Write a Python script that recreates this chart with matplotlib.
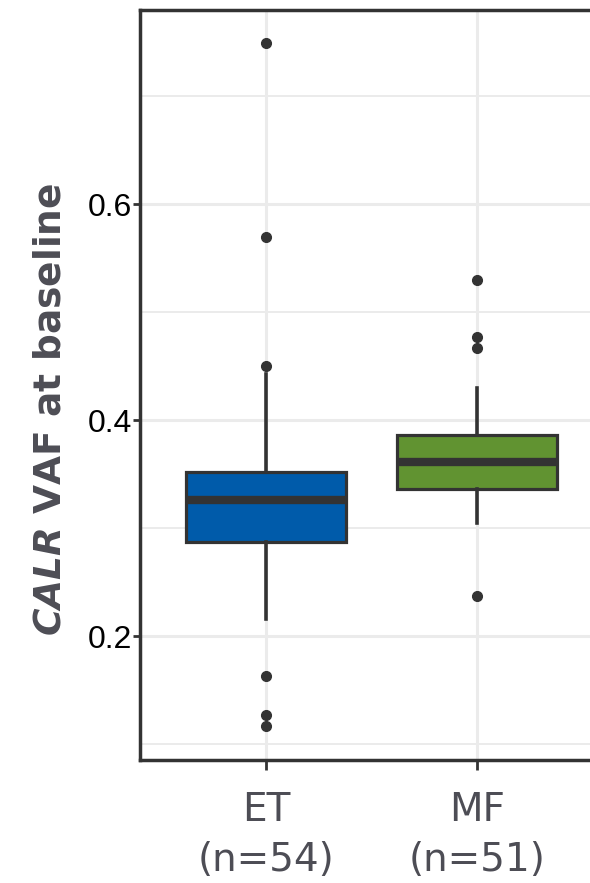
import matplotlib
matplotlib.use("Agg")
import matplotlib.pyplot as plt
from matplotlib.ticker import MultipleLocator

# values (box stats per group)
groups = ["ET", "MF"]
counts = [54, 51]
medians = [0.326, 0.361]
q1 = [0.287, 0.336]
q3 = [0.352, 0.386]
whisker_lo = [0.216, 0.305]
whisker_hi = [0.443, 0.430]
outliers = [[0.749, 0.570, 0.450, 0.163, 0.127, 0.117],
            [0.530, 0.477, 0.467, 0.237]]
fills = ["#005BAA", "#619331"]

dark = "#333333"
grid = "#EBEBEB"

fig = plt.figure(figsize=(5.9, 8.83), dpi=100)
ax = fig.add_axes([140 / 590, 123 / 883, 463 / 590, 750 / 883])

stats = []
for i in range(len(groups)):
    stats.append({"med": medians[i], "q1": q1[i], "q3": q3[i],
                  "whislo": whisker_lo[i], "whishi": whisker_hi[i],
                  "fliers": outliers[i]})

bp = ax.bxp(stats, positions=[1, 2], widths=0.76, patch_artist=True,
            showcaps=False, zorder=3,
            boxprops=dict(edgecolor=dark, linewidth=2.3),
            whiskerprops=dict(color=dark, linewidth=2.6),
            medianprops=dict(color=dark, linewidth=6, solid_capstyle="butt"),
            flierprops=dict(marker="o", markerfacecolor=dark, markeredgecolor=dark,
                            markersize=7, linestyle="none"))
for patch, c in zip(bp["boxes"], fills):
    patch.set_facecolor(c)

ax.set_xlim(0.4, 2.6)
ax.set_ylim(0.0855, 0.780)
ax.yaxis.set_major_locator(MultipleLocator(0.2))
ax.yaxis.set_minor_locator(MultipleLocator(0.1))
ax.set_xticks([1, 2])
ax.set_xticklabels([f"{g}\n(n={n})" for g, n in zip(groups, counts)])

ax.grid(True, which="major", color=grid, linewidth=2.2, zorder=0)
ax.grid(True, which="minor", axis="y", color=grid, linewidth=1.4, zorder=0)
ax.set_axisbelow(True)

for s in ax.spines.values():
    s.set_color(dark)
    s.set_linewidth(2.5)

ax.tick_params(axis="y", which="major", length=5, width=2, color=dark,
               labelsize=23, labelcolor="black", pad=1)
ax.tick_params(axis="y", which="minor", length=0)
ax.tick_params(axis="x", length=7, width=2, color=dark,
               labelsize=28, labelcolor="#4D4D55", pad=15)
for lab in ax.get_yticklabels():
    lab.set_family("Liberation Sans")
for lab in ax.get_xticklabels():
    lab.set_linespacing(1.4)

ax.set_ylabel(r"$\mathbfit{CALR}$ VAF at baseline", fontsize=27, fontweight="bold",
              color="#4D4D55")
ax.yaxis.set_label_coords(-0.155, 0.467)

fig.savefig("out.png", dpi=100)
